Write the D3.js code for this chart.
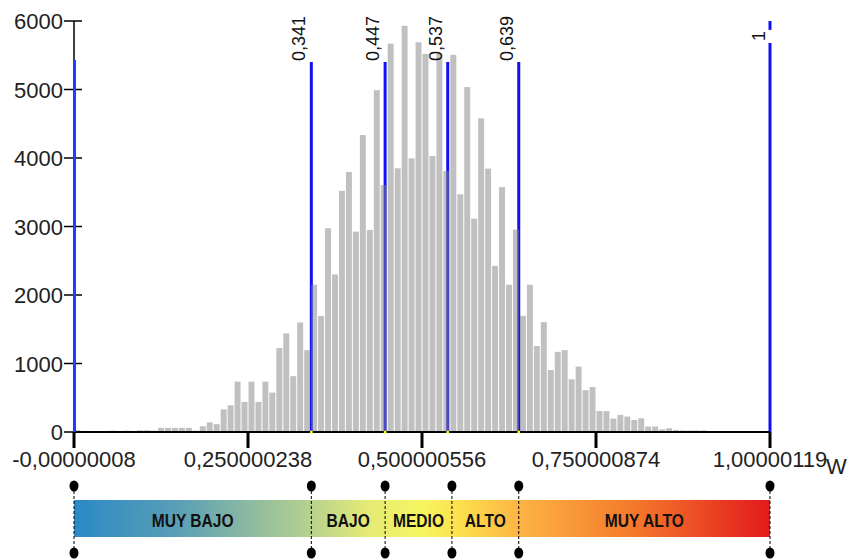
<!DOCTYPE html>
<html><head><meta charset="utf-8">
<script src="https://cdn.jsdelivr.net/npm/d3@7"></script>
<style>body{margin:0;background:#fff}</style>
</head><body><svg id="c" width="848" height="560"></svg>
<script>
// ---- data ----
const binWidth = 0.01;
const counts = [25,15,0,0,0,20,5,20,10,25,
  25,20,60,60,60,60,60,20,85,140,
  115,330,390,735,440,735,440,735,575,1225,
  1440,815,1600,1195,2150,1695,2975,2300,3520,3795,
  2925,4335,2950,4990,3605,5670,3850,5930,3995,5690,
  5520,4030,5520,3810,5505,3470,5035,3115,4580,3845,
  2425,3575,2150,2955,1695,2150,1255,1605,905,1170,
  1195,770,955,610,655,305,305,195,250,225,
  175,200,80,80,38,55,28,22,22,22,
  22,0,0,0,0,0,0,0,0,0];
const xTickValues = [-0.00000008, 0.250000238, 0.500000556, 0.750000874, 1.00000119];
const xTickLabels = ["-0,00000008","0,250000238","0,500000556","0,750000874","1,00000119"];
const yTicks = [0,1000,2000,3000,4000,5000,6000];
const thresholds = [0.341, 0.447, 0.537, 0.639];
const thresholdLabels = ["0,341","0,447","0,537","0,639"];
const thresholdTop = 5400;
const edgeLines = [0, 1];
const edgeTops = [5430, 5680];
const maxLabel = "1";
const classNames = ["MUY BAJO","BAJO","MEDIO","ALTO","MUY ALTO"];
const classBreaks = [0, 0.341, 0.447, 0.543, 0.639, 1];
const gradStops = [[0,"#2b89c6"],[0.15,"#5a9fb6"],[0.35,"#bdd48c"],[0.42,"#e4ea76"],[0.5,"#f7f560"],[0.56,"#fddd4c"],[0.64,"#fcb444"],[0.8,"#f57a2c"],[1,"#e31a1c"]];

// ---- drawing ----
const svg = d3.select("#c");
const x = d3.scaleLinear().domain([xTickValues[0], xTickValues[4]]).range([74, 770]);
const y = d3.scaleLinear().domain([0, 6000]).range([432, 21]);
const blue = "#1010f5";

// threshold lines (under bars)
svg.append("g").selectAll("line").data(thresholds).join("line")
  .attr("x1", d => x(d)).attr("x2", d => x(d))
  .attr("y1", y(0)).attr("y2", y(thresholdTop))
  .attr("stroke", blue).attr("stroke-width", 3);
svg.append("line").attr("x1", x(1)).attr("x2", x(1)).attr("y1", y(0)).attr("y2", y(edgeTops[1]))
  .attr("stroke", blue).attr("stroke-width", 3);
svg.append("line").attr("x1", x(1)).attr("x2", x(1)).attr("y1", y(5870)).attr("y2", y(6000))
  .attr("stroke", blue).attr("stroke-width", 3);

// bars
const bins = counts.map((c, i) => ({x0: i * binWidth, x1: (i + 1) * binWidth, c}));
svg.append("g").selectAll("rect").data(bins.filter(b => b.c > 0)).join("rect")
  .attr("x", d => x(d.x0) + 0.5)
  .attr("width", d => Math.max(0, x(d.x1) - x(d.x0) - 1))
  .attr("y", d => y(d.c))
  .attr("height", d => y(0) - y(d.c))
  .attr("fill", "#848484").attr("fill-opacity", 0.51);

// y axis
const ya = svg.append("g");
ya.append("line").attr("x1", x(0)).attr("x2", x(0)).attr("y1", y(6000)).attr("y2", y(0))
  .attr("stroke", "#000").attr("stroke-width", 1.5);
ya.selectAll("line.t").data(yTicks).join("line").attr("class","t")
  .attr("x1", x(0) - 10).attr("x2", x(0) + 8)
  .attr("y1", d => y(d)).attr("y2", d => y(d))
  .attr("stroke", "#000").attr("stroke-width", 1.5);
ya.selectAll("text").data(yTicks).join("text")
  .attr("x", x(0) - 11).attr("y", d => y(d) + 8)
  .attr("text-anchor", "end")
  .attr("font-family", "'Liberation Sans', Arial, sans-serif")
  .attr("font-size", 22).attr("fill", "#222")
  .text(d => d);

// x axis
const xa = svg.append("g");
xa.append("line").attr("x1", x(0)).attr("x2", x(1)).attr("y1", y(0)).attr("y2", y(0))
  .attr("stroke", "#000").attr("stroke-width", 2);
xa.selectAll("line.t").data(xTickValues).join("line").attr("class","t")
  .attr("x1", d => x(d)).attr("x2", d => x(d))
  .attr("y1", y(0)).attr("y2", y(0) + 16)
  .attr("stroke", "#000").attr("stroke-width", 3);
xa.selectAll("text").data(xTickLabels).join("text")
  .attr("x", (d, i) => x(xTickValues[i])).attr("y", 467)
  .attr("text-anchor", "middle")
  .attr("font-family", "'Liberation Sans', Arial, sans-serif")
  .attr("font-size", 22).attr("fill", "#222")
  .text(d => d);
svg.append("text").attr("x", 826).attr("y", 474)
  .attr("font-family", "'Liberation Sans', Arial, sans-serif")
  .attr("font-size", 22).attr("fill", "#222").text("W");

// x=0 blue line over the axis
svg.append("line").attr("x1", x(edgeLines[0]) + 0.5).attr("x2", x(edgeLines[0]) + 0.5)
  .attr("y1", y(0)).attr("y2", y(edgeTops[0]))
  .attr("stroke", "#1f3cff").attr("stroke-width", 3);

// yellow base marks
svg.append("g").selectAll("circle").data(thresholds).join("circle")
  .attr("cx", d => x(d)).attr("cy", y(0)).attr("r", 1.5).attr("fill", "#ffff00");

// threshold labels
const lab = svg.append("g").attr("font-family", "'Liberation Sans', Arial, sans-serif")
  .attr("font-size", 18).attr("fill", "#111");
lab.selectAll("text").data(thresholds).join("text")
  .attr("transform", d => `translate(${x(d) - 6},${y(thresholdTop) - 1}) rotate(-90)`)
  .text((d, i) => thresholdLabels[i]);
lab.append("text")
  .attr("transform", `translate(${x(1) - 5},${y(edgeTops[1]) - 2}) rotate(-90)`)
  .text(maxLabel);

// legend
const defs = svg.append("defs");
const grad = defs.append("linearGradient").attr("id", "g").attr("x1", "0%").attr("x2", "100%");
grad.selectAll("stop").data(gradStops).join("stop")
  .attr("offset", d => d[0]).attr("stop-color", d => d[1]);
svg.append("rect").attr("x", x(0)).attr("y", 500).attr("width", x(1) - x(0)).attr("height", 37)
  .attr("fill", "url(#g)");
const lg = svg.append("g");
lg.selectAll("line").data(classBreaks).join("line")
  .attr("x1", d => x(d)).attr("x2", d => x(d)).attr("y1", 486).attr("y2", 553)
  .attr("stroke", "#000").attr("stroke-width", 1).attr("stroke-dasharray", "3,2");
lg.selectAll("ellipse.a").data(classBreaks).join("ellipse").attr("class","a")
  .attr("cx", d => x(d)).attr("cy", 486).attr("rx", 4.5).attr("ry", 5.5).attr("fill", "#000");
lg.selectAll("ellipse.b").data(classBreaks).join("ellipse").attr("class","b")
  .attr("cx", d => x(d)).attr("cy", 553).attr("rx", 4.5).attr("ry", 5.5).attr("fill", "#000");
lg.selectAll("text").data(classNames).join("text")
  .attr("transform", (d, i) => `translate(${(x(classBreaks[i]) + x(classBreaks[i + 1])) / 2},527) scale(0.82,1)`)
  .attr("text-anchor", "middle")
  .attr("font-family", "'Liberation Sans', Arial, sans-serif")
  .attr("font-weight", "bold").attr("font-size", 19).attr("fill", "#111")
  .text(d => d);
</script></body></html>
